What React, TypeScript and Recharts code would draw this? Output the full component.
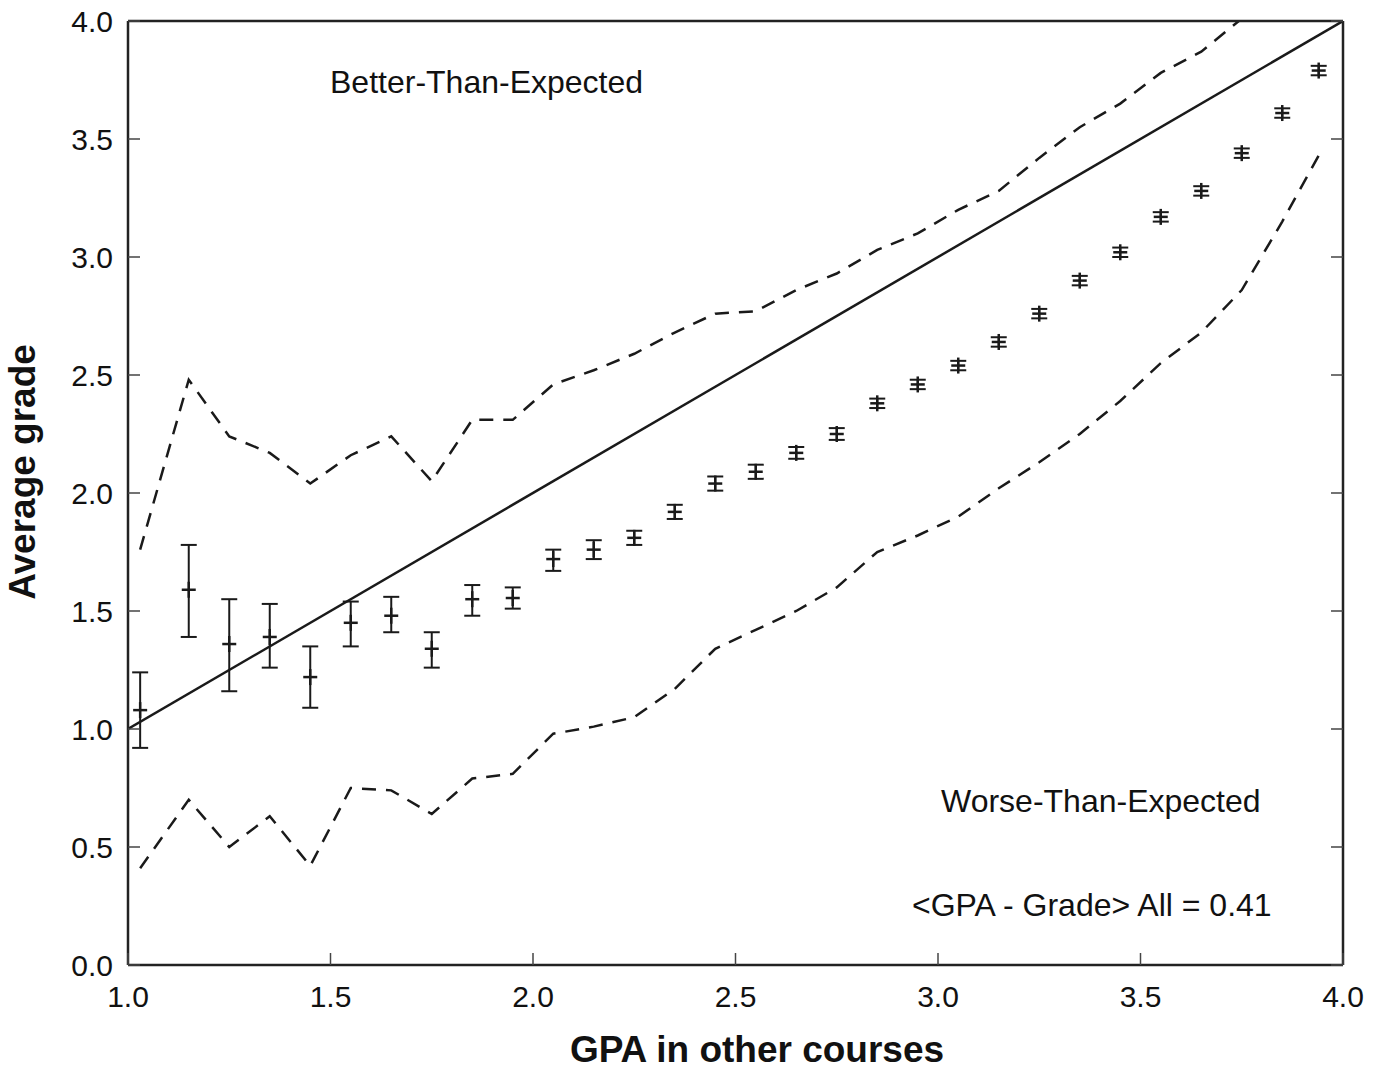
import React from 'react';
import { ComposedChart, XAxis, YAxis, Line, Scatter, ErrorBar, ReferenceLine } from 'recharts';

// GPA bin centres (x) shared by all series
const gpaBins = [1.03, 1.15, 1.25, 1.35, 1.45, 1.55, 1.65, 1.75, 1.85, 1.95, 2.05, 2.15, 2.25, 2.35, 2.45, 2.55, 2.65, 2.75, 2.85, 2.95, 3.05, 3.15, 3.25, 3.35, 3.45, 3.55, 3.65, 3.75, 3.85, 3.94];
// Average grade in the course for each bin
const meanGrade = [1.08, 1.59, 1.36, 1.39, 1.22, 1.45, 1.48, 1.34, 1.55, 1.555, 1.72, 1.76, 1.81, 1.92, 2.04, 2.09, 2.17, 2.25, 2.38, 2.46, 2.54, 2.64, 2.76, 2.9, 3.02, 3.17, 3.28, 3.44, 3.61, 3.79];
// error below / above the mean
const errDown = [0.16, 0.2, 0.2, 0.13, 0.13, 0.1, 0.07, 0.08, 0.07, 0.045, 0.05, 0.04, 0.03, 0.03, 0.03, 0.03, 0.025, 0.025, 0.02, 0.02, 0.02, 0.02, 0.02, 0.02, 0.02, 0.02, 0.02, 0.02, 0.02, 0.02];
const errUp = [0.16, 0.19, 0.19, 0.14, 0.13, 0.09, 0.08, 0.07, 0.06, 0.045, 0.04, 0.04, 0.03, 0.03, 0.03, 0.03, 0.025, 0.025, 0.02, 0.02, 0.02, 0.02, 0.02, 0.02, 0.02, 0.02, 0.02, 0.02, 0.02, 0.02];
// dashed spread bands
const upperBand = [1.76, 2.48, 2.24, 2.17, 2.04, 2.16, 2.24, 2.05, 2.31, 2.31, 2.46, 2.52, 2.59, 2.68, 2.76, 2.77, 2.86, 2.93, 3.03, 3.1, 3.2, 3.28, 3.42, 3.55, 3.65, 3.78, 3.87, 4.01, 4.15, 4.28];
const lowerBand = [0.41, 0.7, 0.5, 0.63, 0.42, 0.75, 0.74, 0.64, 0.79, 0.81, 0.98, 1.01, 1.05, 1.17, 1.34, 1.42, 1.5, 1.6, 1.75, 1.82, 1.9, 2.02, 2.13, 2.25, 2.39, 2.55, 2.68, 2.86, 3.15, 3.43];
// identity line GPA = grade
const identityEnds = [1, 4];
const xTicks = [1.0, 1.5, 2.0, 2.5, 3.0, 3.5, 4.0];
const yTicks = [0.0, 0.5, 1.0, 1.5, 2.0, 2.5, 3.0, 3.5, 4.0];

const pointData = gpaBins.map((x, i) => ({ x, y: meanGrade[i], err: [errDown[i], errUp[i]] }));
const upperData = gpaBins.map((x, i) => ({ x, y: upperBand[i] }));
const lowerData = gpaBins.map((x, i) => ({ x, y: lowerBand[i] }));

const FONT = '"Liberation Sans", Arial, Helvetica, sans-serif';
const INK = '#1a1a1a';
const TICK_LEN = 12;

const BottomTick = (props: any) => {
  const { x, y, payload } = props;
  return (
    <g>
      <line x1={x} y1={y} x2={x} y2={y - TICK_LEN} stroke="#444" strokeWidth={1.5} />
      <text x={x} y={y + 42} textAnchor="middle" fontSize={30} fontFamily={FONT} fill="#111">
        {Number(payload.value).toFixed(1)}
      </text>
    </g>
  );
};
const LeftTick = (props: any) => {
  const { x, y, payload } = props;
  return (
    <g>
      <line x1={x} y1={y} x2={x + TICK_LEN} y2={y} stroke="#444" strokeWidth={1.5} />
      <text x={x - 15} y={y} dy="0.36em" textAnchor="end" fontSize={30} fontFamily={FONT} fill="#111">
        {Number(payload.value).toFixed(1)}
      </text>
    </g>
  );
};
const TopTick = (props: any) => {
  const { x, y } = props;
  return <line x1={x} y1={y} x2={x} y2={y + TICK_LEN} stroke="#444" strokeWidth={1.5} />;
};
const RightTick = (props: any) => {
  const { x, y } = props;
  return <line x1={x} y1={y} x2={x - TICK_LEN} y2={y} stroke="#444" strokeWidth={1.5} />;
};

const PlusMarker = (props: any) => {
  const { cx, cy } = props;
  if (cx == null || cy == null) return null;
  return (
    <g>
      <line x1={cx - 7} y1={cy} x2={cx + 7} y2={cy} stroke={INK} strokeWidth={2.5} />
      <line x1={cx} y1={cy - 8} x2={cx} y2={cy + 8} stroke={INK} strokeWidth={2.5} />
    </g>
  );
};

export default function App() {
  const W = 1375;
  const H = 1070;
  return (
    <div style={{ position: 'absolute', left: 0, top: 0, width: W, height: H, background: '#fff' }}>
      <ComposedChart width={W} height={H} margin={{ top: 20, right: 31, bottom: 45, left: 48 }}>
        <XAxis
          dataKey="x"
          type="number"
          domain={[1, 4]}
          ticks={xTicks}
          allowDataOverflow
          height={60}
          tickSize={0}
          tickMargin={0}
          tickLine={false}
          axisLine={{ stroke: '#222', strokeWidth: 2.5 }}
          tick={<BottomTick />}
          interval={0}
        />
        <XAxis
          xAxisId="top"
          orientation="top"
          type="number"
          domain={[1, 4]}
          ticks={xTicks}
          allowDataOverflow
          height={1}
          tickSize={0}
          tickMargin={0}
          tickLine={false}
          axisLine={{ stroke: '#222', strokeWidth: 2.5 }}
          tick={<TopTick />}
          interval={0}
        />
        <YAxis
          dataKey="y"
          type="number"
          domain={[0, 4]}
          ticks={yTicks}
          allowDataOverflow
          width={80}
          tickSize={0}
          tickMargin={0}
          tickLine={false}
          axisLine={{ stroke: '#222', strokeWidth: 2.5 }}
          tick={<LeftTick />}
          interval={0}
        />
        <YAxis
          yAxisId="right"
          orientation="right"
          type="number"
          domain={[0, 4]}
          ticks={yTicks}
          allowDataOverflow
          width={1}
          tickSize={0}
          tickMargin={0}
          tickLine={false}
          axisLine={{ stroke: '#222', strokeWidth: 2.5 }}
          tick={<RightTick />}
          interval={0}
        />
        <ReferenceLine
          segment={[{ x: identityEnds[0], y: identityEnds[0] }, { x: identityEnds[1], y: identityEnds[1] }]}
          stroke={INK}
          strokeWidth={2.5}
          ifOverflow="hidden"
        />
        <Line
          data={upperData}
          dataKey="y"
          type="linear"
          stroke={INK}
          strokeWidth={2.5}
          strokeDasharray="14 10"
          dot={false}
          activeDot={false}
          isAnimationActive={false}
        />
        <Line
          data={lowerData}
          dataKey="y"
          type="linear"
          stroke={INK}
          strokeWidth={2.5}
          strokeDasharray="14 10"
          dot={false}
          activeDot={false}
          isAnimationActive={false}
        />
        <Scatter data={pointData} dataKey="y" shape={<PlusMarker />} isAnimationActive={false}>
          <ErrorBar dataKey="err" direction="y" width={8} stroke={INK} strokeWidth={2} isAnimationActive={false} />
        </Scatter>
      </ComposedChart>
      <svg
        width={W}
        height={H}
        style={{ position: 'absolute', left: 0, top: 0, pointerEvents: 'none' }}
      >
        <text x={330} y={93} fontSize={32} fontFamily={FONT} fill="#111">Better-Than-Expected</text>
        <text x={941} y={812} fontSize={32} fontFamily={FONT} fill="#111">Worse-Than-Expected</text>
        <text x={912} y={916} fontSize={32} fontFamily={FONT} fill="#111">{'<GPA - Grade> All = 0.41'}</text>
        <text x={757} y={1062} textAnchor="middle" fontSize={37} fontWeight="bold" fontFamily={FONT} fill="#111">
          GPA in other courses
        </text>
        <text
          x={0}
          y={0}
          transform="translate(35, 472) rotate(-90)"
          textAnchor="middle"
          fontSize={37}
          fontWeight="bold"
          fontFamily={FONT}
          fill="#111"
        >
          Average grade
        </text>
      </svg>
    </div>
  );
}
